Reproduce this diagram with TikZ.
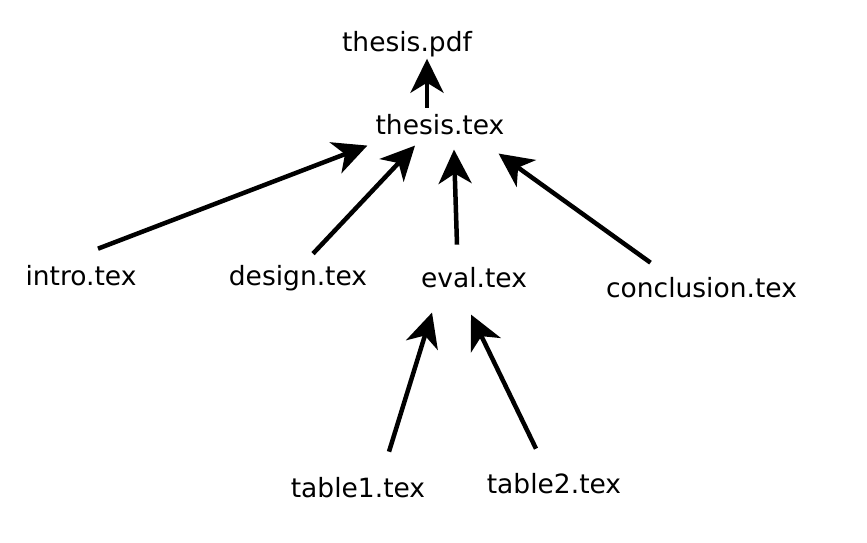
\documentclass[tikz,border=0pt]{standalone}
\usepackage{fontspec}
\setmainfont{DejaVu Sans}
\usepackage{tikz}
\usetikzlibrary{arrows.meta, positioning}

\begin{document}
\begin{tikzpicture}[
    x=1pt, y=-1pt,
    file/.style={inner sep=0pt, anchor=base, font=\fontsize{26.5}{32}\selectfont},
    arrow/.style={-{Stealth[length=34pt, width=33pt, inset=10pt]}, line width=4.5pt},
]
\useasboundingbox (0,0) rectangle (867,543);

% Row 1: output
\node[file] (pdf) at (407,52) {thesis.pdf};
\node[file] (tex) at (440,134) {thesis.tex};

% Row 2: chapters
\node[file] (intro) at (81,285) {intro.tex};
\node[file] (design) at (298,285) {design.tex};
\node[file] (eval) at (474,287) {eval.tex};
\node[file] (concl) at (701.5,297) {conclusion.tex};

% Row 3: tables
\node[file] (table1) at (358,497) {table1.tex};
\node[file] (table2) at (554,493) {table2.tex};

\draw[arrow] ([xshift=-13pt, yshift=6pt]tex.north) -- ([xshift=20pt, yshift=-1pt]pdf.south);
\draw[arrow] ([xshift=17pt, yshift=16pt]intro.north) -- ([xshift=-8pt, yshift=-11pt]tex.south west);
\draw[arrow] ([xshift=15pt, yshift=11pt]design.north) -- ([xshift=-25pt, yshift=-11pt]tex.south);
\draw[arrow] ([xshift=-17pt, yshift=22pt]eval.north) -- ([xshift=14pt, yshift=-15pt]tex.south);
\draw[arrow] ([xshift=-51pt, yshift=14pt]concl.north) -- ([xshift=-6pt, yshift=-19pt]tex.south east);
\draw[arrow] ([xshift=31pt, yshift=25pt]table1.north) -- ([xshift=-42pt, yshift=-25pt]eval.south);
\draw[arrow] ([xshift=-18pt, yshift=24pt]table2.north) -- ([xshift=-3pt, yshift=-27pt]eval.south);

\end{tikzpicture}
\end{document}
